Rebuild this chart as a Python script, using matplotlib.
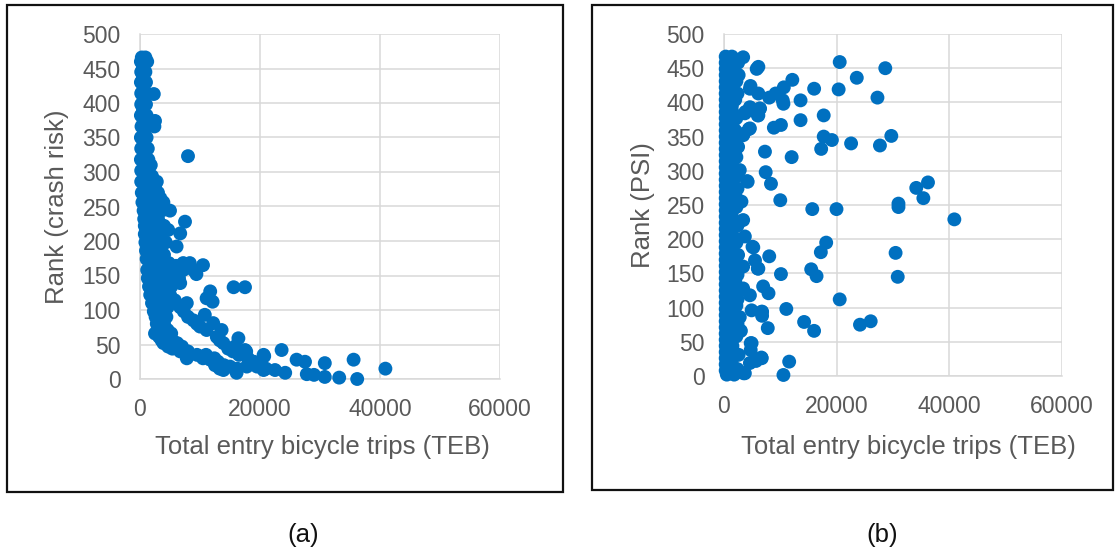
import matplotlib
matplotlib.use("Agg")
import matplotlib.pyplot as plt
from matplotlib.patches import Rectangle

plt.rcParams['font.family'] = ['Liberation Sans', 'DejaVu Sans']

# ---------------- data ----------------
x_ticks = [0, 20000, 40000, 60000]
y_ticks = [0, 50, 100, 150, 200, 250, 300, 350, 400, 450, 500]
x_label = "Total entry bicycle trips (TEB)"
y_label_a = "Rank (crash risk)"
y_label_b = "Rank (PSI)"
panel_tags = ["(a)", "(b)"]

# Panel (a): upper column of points (TEB, rank)
column_a = [
    (300, 466), (900, 466), (150, 460), (1200, 460), (500, 452), (200, 445), (900, 445),
    (500, 437), (150, 430), (1000, 430), (600, 422), (200, 414), (1000, 414), (2300, 413),
    (600, 406), (200, 398), (1000, 398), (500, 390), (150, 382), (1100, 382), (600, 374),
    (2500, 374), (250, 366), (1200, 366), (2400, 366), (700, 358), (150, 350), (1100, 350),
    (600, 342), (200, 334), (1300, 334), (700, 326), (150, 318), (1400, 318), (800, 310),
    (1800, 310), (200, 302), (1400, 302), (900, 294), (2000, 294), (200, 286), (1500, 286),
    (2800, 286), (900, 278), (2500, 278), (300, 270), (1700, 270), (3000, 270), (1000, 262),
    (2400, 262), (3400, 262), (400, 256), (3900, 256), (1600, 250), (2800, 250), (600, 244),
    (3600, 244), (5000, 244), (1200, 238), (2400, 238), (700, 232), (3000, 232), (1800, 228),
    (7500, 228), (800, 222), (2600, 222), (4000, 222), (1500, 216), (3400, 216), (4700, 216),
    (800, 210), (2500, 210), (6700, 211), (1800, 204), (3600, 204), (900, 198), (3000, 198),
    (4300, 198), (2000, 192), (6100, 192), (1000, 186), (3200, 186), (2200, 180), (4000, 180),
    (1100, 174), (3000, 174),
]
# Panel (a): lower part, branches and the tail (TEB, rank)
lower_a = [
    (2000, 168), (4800, 168), (7200, 168), (8300, 168), (10500, 165), (3600, 164), (6000, 164),
    (1200, 158), (2800, 158), (8900, 158), (7200, 158), (2000, 152), (4200, 152), (5800, 152),
    (9400, 152), (1300, 146), (3200, 146), (6500, 146), (2200, 140), (4600, 140), (6700, 139),
    (1500, 134), (3500, 134), (5200, 134), (15600, 133), (17500, 133), (2400, 128), (4400, 128),
    (11700, 127), (1700, 122), (3200, 122), (5000, 122), (2600, 117), (11100, 117), (12100, 112),
    (4000, 114), (5800, 114), (2000, 110), (3400, 110), (7800, 110), (2800, 104), (4600, 104),
    (6700, 104), (2300, 98), (3800, 98), (7300, 98), (10800, 93), (3200, 93), (2600, 90),
    (4400, 90), (8000, 90), (3000, 85), (8900, 85), (2800, 80), (4000, 80), (9500, 80),
    (10000, 76), (3400, 76), (12200, 81), (3000, 71), (4600, 71), (11100, 71), (13600, 71),
    (2500, 66), (3800, 66), (5200, 66), (12800, 61), (3200, 61), (4600, 61), (16400, 59),
    (3600, 56), (5400, 56), (13300, 56), (3900, 52), (13900, 52), (6200, 52), (4700, 47),
    (15800, 47), (7000, 47), (5400, 44), (14700, 44), (17500, 42), (6700, 40), (8000, 40),
    (15500, 40), (9500, 35), (11000, 35), (16500, 35), (20600, 35), (7800, 30), (10500, 30),
    (12400, 30), (18000, 30), (11700, 28), (26100, 28), (13000, 25), (19000, 25), (27500, 25),
    (30800, 23), (12500, 20), (14000, 20), (20100, 20), (15000, 18), (17800, 18), (19500, 18),
    (13300, 15), (16200, 15), (21000, 15), (40900, 15), (13900, 13), (20600, 13), (22500, 13),
    (16100, 9), (24200, 9), (27800, 7), (29000, 6), (30800, 3), (33200, 2), (36200, 0),
    (8000, 323), (23600, 42), (35600, 28), (20700, 33), (17700, 40),
]

# Panel (b): dense column near zero TEB (TEB, rank)
column_b = [
    (300, 467), (1400, 467), (3400, 466), (300, 458), (1500, 458), (2500, 458), (6100, 452),
    (300, 449), (1400, 449), (5800, 449), (300, 440), (1500, 440), (2600, 440), (300, 431),
    (1400, 431), (2200, 431), (300, 422), (1500, 422), (4700, 424), (4600, 420), (300, 413),
    (1400, 413), (2400, 413), (6100, 413), (300, 404), (1500, 404), (2000, 404), (300, 395),
    (1400, 395), (4600, 393), (6400, 391), (300, 386), (1500, 386), (3700, 384), (6100, 381),
    (300, 377), (1400, 377), (2200, 377), (300, 368), (1500, 368), (4600, 362), (300, 359),
    (1400, 359), (2000, 359), (300, 350), (1500, 350), (3400, 352), (300, 341), (1400, 341),
    (2500, 335), (300, 332), (1500, 332), (2000, 330), (300, 323), (1400, 323), (2200, 320),
    (300, 314), (1500, 314), (300, 305), (1400, 305), (2800, 301), (300, 296), (1500, 296),
    (2200, 292), (300, 287), (1400, 287), (4200, 284), (300, 278), (1500, 278), (2400, 274),
    (300, 269), (1400, 269), (2000, 265), (300, 260), (1500, 260), (3100, 255), (300, 251),
    (1400, 251), (2200, 247), (300, 242), (1500, 242), (300, 233), (1400, 233), (3400, 228),
    (300, 224), (1500, 224), (2400, 220), (300, 215), (1400, 215), (300, 206), (1500, 206),
    (3700, 204), (300, 197), (1400, 197), (2200, 195), (300, 188), (1500, 188), (5200, 188),
    (300, 179), (1400, 179), (2500, 177), (300, 170), (1500, 170), (5500, 169), (300, 161),
    (1400, 161), (3400, 160), (6100, 157), (300, 152), (1500, 152), (2400, 148), (300, 143),
    (1400, 143), (2000, 139), (300, 134), (1500, 134), (3400, 128), (300, 125), (1400, 125),
    (4600, 118), (300, 116), (1500, 116), (2400, 112), (300, 107), (1400, 107), (2200, 103),
    (300, 98), (1500, 98), (4900, 96), (6700, 94), (300, 89), (1400, 89), (2800, 86),
    (300, 80), (1500, 80), (2400, 76), (300, 71), (1400, 71), (3000, 66), (300, 62),
    (1500, 62), (2200, 58), (300, 53), (1400, 53), (4900, 48), (300, 44), (1500, 44),
    (4740, 38), (300, 35), (1400, 35), (2600, 31), (300, 26), (1500, 26), (6700, 26),
    (300, 17), (1400, 17), (4600, 19), (300, 8), (1500, 8), (2400, 10), (500, 2),
    (3700, 4), (1800, 2),
]
# Panel (b): scattered points (TEB, rank)
spread_b = [
    (20540, 459), (28630, 450), (23570, 436), (12130, 433), (16000, 420), (20350, 419),
    (27240, 407), (10620, 422), (9160, 413), (8030, 407), (10430, 403), (13590, 403),
    (10550, 398), (6320, 391), (3790, 386), (6000, 381), (17700, 381), (13590, 374),
    (10110, 367), (8850, 363), (4420, 361), (3480, 354), (17700, 350), (19150, 345),
    (29700, 351), (22560, 340), (27680, 337), (17250, 332), (7270, 328), (12010, 320),
    (7400, 298), (8340, 281), (4110, 285), (34130, 275), (36210, 283), (35390, 260),
    (30970, 252), (30970, 247), (9990, 257), (15670, 244), (19970, 244), (40890, 229),
    (18140, 195), (17190, 181), (30460, 180), (8030, 175), (5060, 189), (6000, 157),
    (15480, 156), (16430, 146), (10110, 149), (30840, 145), (6950, 131), (7900, 121),
    (20540, 112), (11060, 98), (6760, 94), (6760, 88), (14220, 79), (15990, 66),
    (7770, 70), (24140, 75), (26040, 80), (6640, 27), (5690, 22), (11570, 21),
    (10550, 1.5), (4740, 48), (3480, 4),
]

BLUE = '#0070C0'
TXT = '#595959'
GRID = '#D9D9D9'

W, H = 1116, 555
fig = plt.figure(figsize=(W / 100, H / 100), dpi=100)


def fx(px):
    return px / W


def fy(py):
    return 1 - py / H


# panel borders
for (x0, y0, x1, y1) in [(7, 5, 563, 492), (592, 5, 1113, 490)]:
    fig.patches.append(Rectangle((fx(x0), fy(y1)), fx(x1) - fx(x0), fy(y0) - fy(y1),
                                 transform=fig.transFigure, fill=False,
                                 edgecolor='#111111', linewidth=1.6))


def make_axes(box, groups, ylabel, ylab_x, xlab_cx):
    x0, y0, x1, y1 = box
    ax = fig.add_axes([fx(x0), fy(y1), fx(x1) - fx(x0), fy(y0) - fy(y1)])
    ax.set_xlim(0, 60000)
    ax.set_ylim(0, 500)
    ax.set_xticks(x_ticks)
    ax.set_yticks(y_ticks)
    ax.set_axisbelow(True)
    ax.grid(True, color=GRID, linewidth=1.1)
    for s in ['top', 'right']:
        ax.spines[s].set_visible(False)
    for s in ['left', 'bottom']:
        ax.spines[s].set_color(GRID)
        ax.spines[s].set_linewidth(1.1)
    ax.tick_params(length=0, labelsize=16.5, labelcolor=TXT, pad=14)
    for g in groups:
        xs = [p[0] for p in g]
        ys = [p[1] for p in g]
        ax.scatter(xs, ys, s=100, color=BLUE, edgecolors='none', clip_on=False, zorder=3)
    fig.text(fx(ylab_x), fy((y0 + y1) / 2), ylabel, rotation=90, ha='center', va='center',
             fontsize=18.5, color=TXT)
    fig.text(fx(xlab_cx), fy(447), x_label, ha='center', va='center', fontsize=18.5, color=TXT)
    return ax


make_axes((140, 34, 500, 379), [column_a, lower_a], y_label_a, 57, 322)
make_axes((724, 34, 1062, 376), [column_b, spread_b], y_label_b, 643, 908)

fig.text(fx(303), fy(535), panel_tags[0], ha='center', va='center', fontsize=18.5, color='#111111')
fig.text(fx(882), fy(535), panel_tags[1], ha='center', va='center', fontsize=18.5, color='#111111')

fig.savefig('out.png', dpi=100)
